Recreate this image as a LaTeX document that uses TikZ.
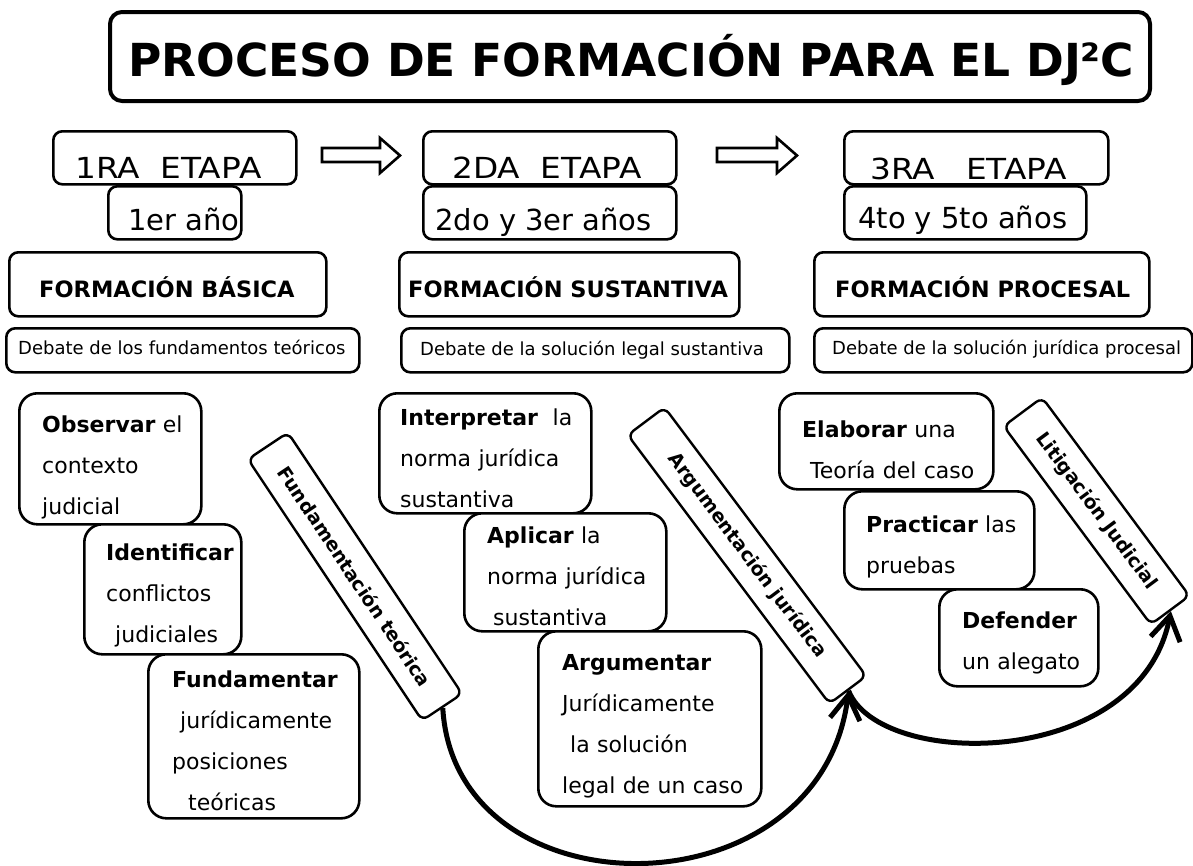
\documentclass[tikz,border=0pt]{standalone}
\usepackage{fontspec}
\setmainfont{DejaVu Sans}
\usetikzlibrary{arrows.meta}
\tikzset{
  box/.style={draw, line width=2.6pt, fill=white, rectangle, inner sep=0pt, anchor=north west},
  stagebox/.style={box, rounded corners=9pt},
  lowbox/.style={box, rounded corners=18pt},
  band/.style={draw, line width=2.4pt, fill=white, rounded corners=7pt, inner sep=0pt,
    font=\bfseries\fontsize{19}{19}\selectfont},
  txt/.style={inner sep=0pt, anchor=base west},
  stagetxt/.style={txt, font=\fontsize{29}{29}\selectfont},
  headtxt/.style={txt, font=\bfseries\fontsize{22.5}{22.5}\selectfont},
  debtxt/.style={txt, font=\fontsize{18}{18}\selectfont},
  body/.style={txt, align=left, font=\fontsize{22}{41}\selectfont},
  curve/.style={line width=5pt, -{Straight Barb[length=24pt,width=30pt]}},
  blockarrow/.style={draw, line width=2.6pt, line join=miter}
}
\begin{document}
\begin{tikzpicture}[x=1pt,y=-1pt]
\useasboundingbox (0,0) rectangle (1193,865);

% title
\node[box, line width=4pt, rounded corners=12pt, minimum width=1040, minimum height=89] (title) at (108,10) {};
\node[txt, font=\bfseries\fontsize{45.5}{50}\selectfont] (titlet) at (128,76) {PROCESO DE FORMACIÓN PARA EL DJ²C};

% stage 1
\node[stagebox, minimum width=243, minimum height=53] (e1) at (52,130) {};
\node[stagebox, minimum width=133, minimum height=53] (y1) at (107,185) {};
\node[stagebox, minimum width=317, minimum height=64] (f1) at (8,251) {};
\node[stagebox, minimum width=353, minimum height=44] (d1) at (5,327) {};
% stage 2
\node[stagebox, minimum width=253, minimum height=53] (e2) at (422,130) {};
\node[stagebox, minimum width=253, minimum height=53] (y2) at (422,185) {};
\node[stagebox, minimum width=340, minimum height=64] (f2) at (398,251) {};
\node[stagebox, minimum width=388, minimum height=44] (d2) at (400,327) {};
% stage 3
\node[stagebox, minimum width=264, minimum height=53] (e3) at (843,130) {};
\node[stagebox, minimum width=242, minimum height=53] (y3) at (843,185) {};
\node[stagebox, minimum width=335, minimum height=64] (f3) at (813,251) {};
\node[stagebox, minimum width=378, minimum height=44] (d3) at (813,327) {};

\node[stagetxt] (e1t) at (75,178) {\scalebox{1.13}[1]{1RA\ \ ETAPA}};
\node[stagetxt] (e2t) at (452,178) {\scalebox{1.13}[1]{2DA\ \ ETAPA}};
\node[stagetxt] (e3t) at (870,179) {\scalebox{1.13}[1]{3RA\ \ \ ETAPA}};
\node[stagetxt] (y1t) at (128,230) {1er año};
\node[stagetxt] (y2t) at (435,230) {2do y 3er años};
\node[stagetxt] (y3t) at (858,228) {4to y 5to años};
\node[headtxt] (f1t) at (39,297) {FORMACIÓN BÁSICA};
\node[headtxt] (f2t) at (408,297) {FORMACIÓN SUSTANTIVA};
\node[headtxt] (f3t) at (835,297) {FORMACIÓN PROCESAL};
\node[debtxt] (d1t) at (18,354) {Debate de los fundamentos teóricos};
\node[debtxt] (d2t) at (420,355) {Debate de la solución legal sustantiva};
\node[debtxt] (d3t) at (832,354) {Debate de la solución jurídica procesal};

% block arrows
\draw[blockarrow] (322,148) -- (380,148) -- (380,138) -- (400,155.5) -- (380,173) -- (380,162) -- (322,162) -- cycle;
\draw[blockarrow] (717,148) -- (777,148) -- (777,138) -- (797,155.5) -- (777,173) -- (777,162) -- (717,162) -- cycle;

% lower boxes
\node[lowbox, minimum width=182, minimum height=131] (obs) at (18,392) {};
\node[lowbox, minimum width=157, minimum height=130] (idf) at (83,523) {};
\node[lowbox, minimum width=211, minimum height=164] (fun) at (147,653) {};
\node[lowbox, minimum width=212, minimum height=120] (int) at (378,392) {};
\node[lowbox, minimum width=202, minimum height=118] (apl) at (463,512) {};
\node[lowbox, minimum width=223, minimum height=175] (arg) at (537,630) {};
\node[lowbox, minimum width=214, minimum height=96] (ela) at (778,392) {};
\node[lowbox, minimum width=190, minimum height=98] (pra) at (843,490) {};
\node[lowbox, minimum width=159, minimum height=97] (def) at (938,588) {};

\node[body, text width=150pt] (obst) at (42,432) {\textbf{Observar} el\\contexto\\judicial};
\node[body, text width=132pt] (idft) at (106,560) {\textbf{Identificar}\\conflictos\\\hspace*{9pt}judiciales};
\node[body, text width=172pt] (funt) at (172,687) {\textbf{Fundamentar}\\\hspace*{8pt}jurídicamente\\posiciones\\\hspace*{16pt}teóricas};
\node[body, text width=178pt] (intt) at (400,425) {\textbf{Interpretar}\ \ la\\norma jurídica\\sustantiva};
\node[body, text width=168pt] (aplt) at (487,543) {\textbf{Aplicar} la\\norma jurídica\\\hspace*{6pt}sustantiva};
\node[body, text width=195pt] (argt) at (562,670) {\textbf{Argumentar}\\Jurídicamente\\\hspace*{8pt}la solución\\legal de un caso};
\node[body, text width=178pt] (elat) at (802,437) {\textbf{Elaborar} una\\\hspace*{8pt}Teoría del caso};
\node[body, text width=155pt] (prat) at (866,532) {\textbf{Practicar} las\\pruebas};
\node[body, text width=122pt] (deft) at (962,628) {\textbf{Defender}\\un alegato};

% bands
\node[band, rotate=-56.3, minimum width=314, minimum height=48] (b1) at (355,576.5) {Fundamentación teórica};
\node[band, rotate=-53.1, minimum width=336, minimum height=46] (b2) at (747,555.5) {Argumentación jurídica\hspace{50pt}};
\node[band, rotate=-53.4, minimum width=247, minimum height=48] (b3) at (1096.5,511) {Litigación Judicial\hspace{22pt}};

% curved arrows
\draw[curve] (b1.east) .. controls (455,917) and (820,917) .. (b2.east);
\draw[curve] (b2.east) .. controls (880,770) and (1140,770) .. (b3.east);
\end{tikzpicture}
\end{document}
